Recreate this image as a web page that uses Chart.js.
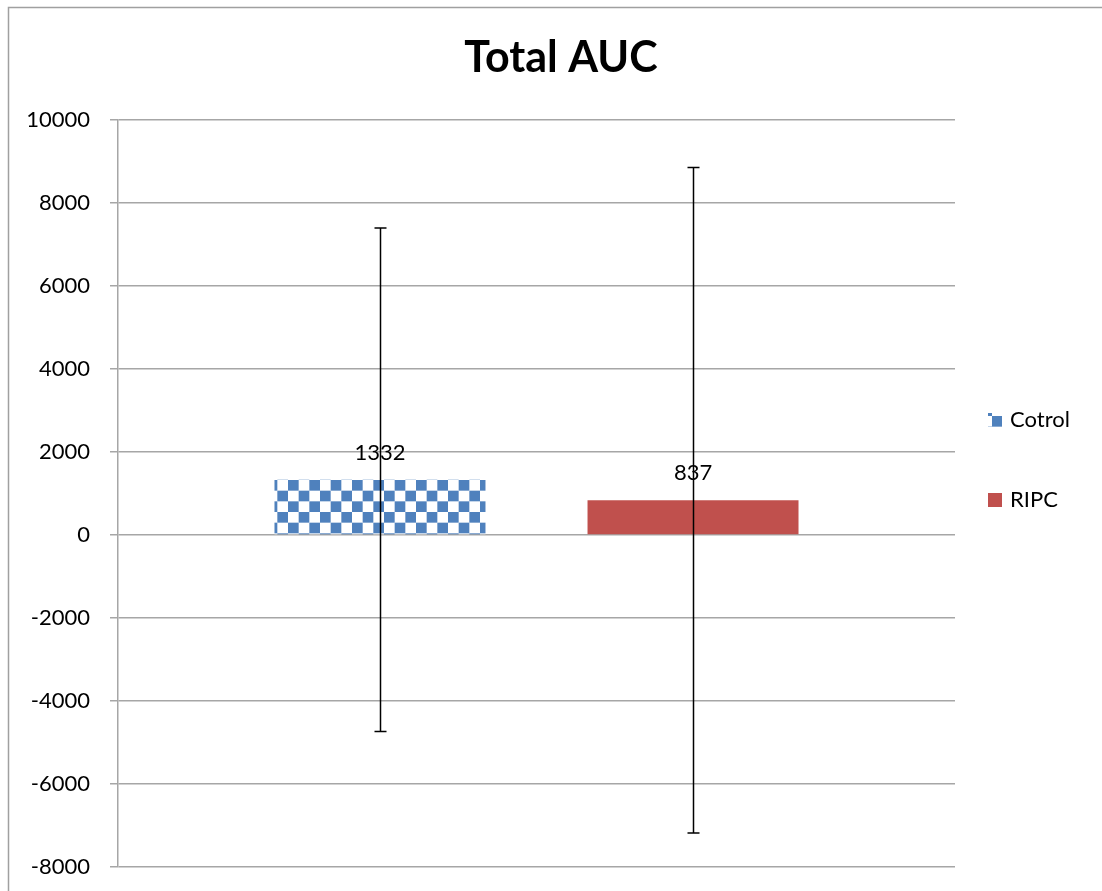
<!DOCTYPE html>
<html>
<head>
<meta charset="utf-8">
<script src="https://cdn.jsdelivr.net/npm/chart.js@4"></script>
<style>
  html, body { margin: 0; padding: 0; background: #fff; }
  #wrap { width: 1102px; height: 891px; }
</style>
</head>
<body>
<div id="wrap"><canvas id="c" width="1102" height="891"></canvas></div>
<script>
// values
var title = "Total AUC";
var categories = ["Total AUC"];
var seriesNames = ["Cotrol", "RIPC"];
var means = [1332, 837];
var errors = [6065, 8020];
var yTicks = [-8000, -6000, -4000, -2000, 0, 2000, 4000, 6000, 8000, 10000];

var blue = "#4F81BD";
var red = "#C0504D";
var gridGray = "#a6a6a6";
var fontFamily = "Lato, 'Open Sans', sans-serif";

// checkerboard fill like the excel pattern
function checkerPattern(ctx) {
  var tile = document.createElement("canvas");
  tile.width = 64;
  tile.height = 64;
  var t = tile.getContext("2d");
  var cell = 64 / 6;
  t.fillStyle = "#fff";
  t.fillRect(0, 0, 64, 64);
  t.fillStyle = blue;
  for (var r = 0; r < 6; r++) {
    for (var c = 0; c < 6; c++) {
      if ((r + c) % 2 === 0) t.fillRect(c * cell, r * cell, cell, cell);
    }
  }
  return ctx.createPattern(tile, "repeat");
}

var canvas = document.getElementById("c");
var ctx = canvas.getContext("2d");
var fills = [checkerPattern(ctx), red];

var extras = {
  id: "extras",
  beforeDraw: function(chart) {
    var c = chart.ctx;
    c.save();
    c.fillStyle = "#fff";
    c.fillRect(0, 0, chart.width, chart.height);
    c.strokeStyle = "#a0a0a0";
    c.lineWidth = 1.5;
    c.beginPath();
    c.moveTo(8.5, chart.height + 2);
    c.lineTo(8.5, 7.5);
    c.lineTo(chart.width + 2, 7.5);
    c.stroke();
    // title, centred like excel (not over the plot area)
    c.fillStyle = "#000";
    c.font = "bold 43px " + fontFamily;
    c.textAlign = "center";
    c.textBaseline = "middle";
    c.fillText(title, 561, 58);
    c.restore();
  },
  afterDatasetsDraw: function(chart) {
    var c = chart.ctx;
    var y = chart.scales.y;
    c.save();
    // error bars
    c.strokeStyle = "#000";
    c.lineWidth = 1.5;
    chart.data.datasets.forEach(function(ds, i) {
      var bar = chart.getDatasetMeta(i).data[0];
      var x = Math.round(bar.x) + 0.5;
      var v = ds.data[0];
      var top = y.getPixelForValue(v + errors[i]);
      var bot = y.getPixelForValue(v - errors[i]);
      c.beginPath();
      c.moveTo(x, top); c.lineTo(x, bot);
      c.moveTo(x - 6, top); c.lineTo(x + 6, top);
      c.moveTo(x - 6, bot); c.lineTo(x + 6, bot);
      c.stroke();
    });
    // value labels
    c.fillStyle = "#000";
    c.font = "22px " + fontFamily;
    c.textAlign = "center";
    c.textBaseline = "middle";
    chart.data.datasets.forEach(function(ds, i) {
      var bar = chart.getDatasetMeta(i).data[0];
      c.fillText(String(ds.data[0]), bar.x, bar.y - 27);
    });
    // legend on the right
    c.textAlign = "left";
    var legendY = [420, 500];
    chart.data.datasets.forEach(function(ds, i) {
      c.fillStyle = fills[i];
      c.fillRect(988, legendY[i] - 7, 14, 14);
      c.fillStyle = "#000";
      c.fillText(ds.label, 1010, legendY[i]);
    });
    c.restore();
  }
};

var chart = new Chart(ctx, {
  type: "bar",
  data: {
    labels: categories,
    datasets: seriesNames.map(function(name, i) {
      return {
        label: name,
        data: [means[i]],
        backgroundColor: fills[i],
        borderWidth: 0,
        barPercentage: 0.674,
        categoryPercentage: 0.748
      };
    })
  },
  options: {
    responsive: false,
    animation: false,
    layout: { padding: { left: 0, top: 120, right: 147, bottom: 24 } },
    plugins: {
      legend: { display: false },
      tooltip: { enabled: false },
      title: { display: false }
    },
    scales: {
      x: { display: false },
      y: {
        min: yTicks[0],
        max: yTicks[yTicks.length - 1],
        afterBuildTicks: function(scale) {
          scale.ticks = yTicks.map(function(v) { return { value: v }; });
        },
        afterFit: function(scale) {
          scale.width = 118;
          scale.paddingTop = 0;
          scale.paddingBottom = 0;
        },
        ticks: {
          color: "#000",
          padding: 20,
          font: { family: fontFamily, size: 22 },
          callback: function(v) { return String(v); }
        },
        grid: { color: gridGray, lineWidth: 1.5, tickLength: 8 },
        border: { color: gridGray, width: 1.5 }
      }
    }
  },
  plugins: [extras]
});
</script>
</body>
</html>
